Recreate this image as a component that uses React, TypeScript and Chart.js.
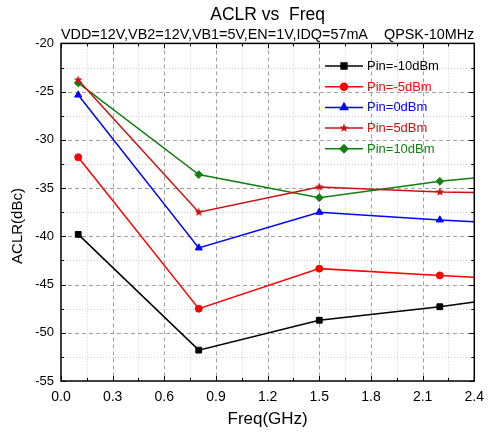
import React, { useEffect, useRef } from 'react';
import { Chart, registerables } from 'chart.js';
import { drawPoint } from 'chart.js/helpers';

Chart.register(...registerables);

// ---- data ----
const freqGHz = [0.1, 0.8, 1.5, 2.2, 2.4];
const pinM10 = [-39.8, -51.8, -48.7, -47.3, -46.8];
const pinM5 = [-31.8, -47.5, -43.35, -44.05, -44.25];
const pin0 = [-25.35, -41.2, -37.5, -38.3, -38.5];
const pin5 = [-23.8, -37.5, -34.9, -35.4, -35.45];
const pin10 = [-24.1, -33.6, -36.0, -34.3, -33.95];
const seriesLabels = ['Pin=-10dBm', 'Pin=-5dBm', 'Pin=0dBm', 'Pin=5dBm', 'Pin=10dBm'];
const seriesColors = ['#000000', '#ff0000', '#0000ff', '#cc1010', '#108010'];
const xTickLabels = ['0.0', '0.3', '0.6', '0.9', '1.2', '1.5', '1.8', '2.1', '2.4'];
const yTickLabels = ['-55', '-50', '-45', '-40', '-35', '-30', '-25', '-20'];
const titleText = 'ACLR vs  Freq';
const subtitleText = 'VDD=12V,VB2=12V,VB1=5V,EN=1V,IDQ=57mA    QPSK-10MHz';
const xTitle = 'Freq(GHz)';
const yTitle = 'ACLR(dBc)';

const FONT = "Arial, 'Liberation Sans', sans-serif";

function makeStar(color: string, size: number) {
  const c = document.createElement('canvas');
  c.width = size;
  c.height = size;
  const g = c.getContext('2d')!;
  const cx = size / 2, cy = size / 2;
  const ro = size / 2 - 0.3, ri = ro * 0.42;
  g.beginPath();
  for (let i = 0; i < 10; i++) {
    const r = i % 2 === 0 ? ro : ri;
    const ang = -Math.PI / 2 + (i * Math.PI) / 5;
    const px = cx + r * Math.cos(ang), py = cy + r * Math.sin(ang);
    if (i === 0) g.moveTo(px, py); else g.lineTo(px, py);
  }
  g.closePath();
  g.fillStyle = color;
  g.fill();
  return c;
}

const xVals = xTickLabels.map(Number);
const yVals = yTickLabels.map(Number);

const framePlugin = {
  id: 'originFrame',
  beforeDatasetsDraw(chart: any) {
    const { ctx, chartArea: a, scales } = chart;
    const x = scales.x, y = scales.y;
    ctx.save();
    ctx.lineWidth = 1;
    ctx.strokeStyle = '#d0d0d0';
    ctx.setLineDash([1, 2]);
    for (let i = 0; i < xVals.length - 1; i++) {
      const px = Math.round(x.getPixelForValue((xVals[i] + xVals[i + 1]) / 2)) + 0.5;
      ctx.beginPath(); ctx.moveTo(px, a.top); ctx.lineTo(px, a.bottom); ctx.stroke();
    }
    for (let i = 0; i < yVals.length - 1; i++) {
      const py = Math.round(y.getPixelForValue((yVals[i] + yVals[i + 1]) / 2)) + 0.5;
      ctx.beginPath(); ctx.moveTo(a.left, py); ctx.lineTo(a.right, py); ctx.stroke();
    }
    ctx.strokeStyle = '#a0a0a0';
    ctx.setLineDash([4, 3]);
    for (let i = 1; i < xVals.length - 1; i++) {
      const px = Math.round(x.getPixelForValue(xVals[i])) + 0.5;
      ctx.beginPath(); ctx.moveTo(px, a.top); ctx.lineTo(px, a.bottom); ctx.stroke();
    }
    for (let i = 1; i < yVals.length - 1; i++) {
      const py = Math.round(y.getPixelForValue(yVals[i])) + 0.5;
      ctx.beginPath(); ctx.moveTo(a.left, py); ctx.lineTo(a.right, py); ctx.stroke();
    }
    ctx.setLineDash([]);
    ctx.beginPath();
    ctx.restore();
  },
  afterDatasetsDraw(chart: any) {
    const { ctx, chartArea: a, scales } = chart;
    const x = scales.x, y = scales.y;
    ctx.save();
    ctx.setLineDash([]);
    ctx.strokeStyle = '#000';
    ctx.lineWidth = 1;
    const tick = (len: number, px: number, py: number, dx: number, dy: number) => {
      ctx.beginPath(); ctx.moveTo(px, py); ctx.lineTo(px + dx * len, py + dy * len); ctx.stroke();
    };
    for (let i = 0; i < xVals.length; i++) {
      const px = Math.round(x.getPixelForValue(xVals[i])) + 0.5;
      tick(5, px, a.bottom, 0, -1);
      tick(5, px, a.top, 0, 1);
      if (i < xVals.length - 1) {
        const pm = Math.round(x.getPixelForValue((xVals[i] + xVals[i + 1]) / 2)) + 0.5;
        tick(3, pm, a.bottom, 0, -1);
        tick(3, pm, a.top, 0, 1);
      }
    }
    for (let i = 0; i < yVals.length; i++) {
      const py = Math.round(y.getPixelForValue(yVals[i])) + 0.5;
      tick(5, a.left, py, 1, 0);
      tick(5, a.right, py, -1, 0);
      if (i < yVals.length - 1) {
        const pm = Math.round(y.getPixelForValue((yVals[i] + yVals[i + 1]) / 2)) + 0.5;
        tick(3, a.left, pm, 1, 0);
        tick(3, a.right, pm, -1, 0);
      }
    }
    ctx.lineWidth = 1.5;
    ctx.strokeRect(a.left, a.top, a.right - a.left, a.bottom - a.top);

    // legend
    const lx0 = 325, lx1 = 363, ly0 = 66, lstep = 20.7;
    chart.data.datasets.forEach((ds: any, i: number) => {
      const ly = ly0 + i * lstep;
      ctx.strokeStyle = ds.borderColor;
      ctx.lineWidth = 1.5;
      ctx.beginPath(); ctx.moveTo(lx0, ly); ctx.lineTo(lx1, ly); ctx.stroke();
      ctx.fillStyle = ds.backgroundColor;
      drawPoint(ctx, {
        pointStyle: ds.pointStyle,
        radius: Array.isArray(ds.pointRadius) ? ds.pointRadius[0] : ds.pointRadius,
        rotation: 0,
        borderWidth: 1,
      }, (lx0 + lx1) / 2, ly);
      ctx.fillStyle = ds.borderColor;
      ctx.font = `13px ${FONT}`;
      ctx.textAlign = 'left';
      ctx.textBaseline = 'middle';
      ctx.fillText(ds.label, lx1 + 4, ly + 0.5);
    });

    // y title
    ctx.fillStyle = '#000';
    ctx.font = `15px ${FONT}`;
    ctx.translate(18, 226);
    ctx.rotate(-Math.PI / 2);
    ctx.textAlign = 'center';
    ctx.textBaseline = 'middle';
    ctx.fillText(yTitle, 0, 0);
    ctx.restore();
  },
};

export default function App() {
  const ref = useRef<HTMLCanvasElement | null>(null);
  useEffect(() => {
    if (!ref.current) return;
    const star = makeStar(seriesColors[3], 10);
    const styles: any[] = ['rect', 'circle', 'triangle', star, 'rectRot'];
    const radii = [4.1, 3.5, 4.1, 5, 3.9];
    const all = [pinM10, pinM5, pin0, pin5, pin10];
    const datasets = all.map((vals, i) => ({
      type: 'scatter',
      showLine: true,
      label: seriesLabels[i],
      data: freqGHz.map((f, j) => ({ x: f, y: vals[j] })),
      borderColor: seriesColors[i],
      backgroundColor: seriesColors[i],
      pointBackgroundColor: seriesColors[i],
      pointBorderColor: seriesColors[i],
      pointBorderWidth: 1,
      borderWidth: 1.5,
      pointStyle: styles[i],
      pointRadius: freqGHz.map((_, j) => (j < 4 ? radii[i] : 0)),
      pointHoverRadius: 0,
      tension: 0,
      fill: false,
      segment: { borderColor: () => seriesColors[i] },
    }));
    const chart = new Chart(ref.current, {
      type: 'scatter',
      data: { datasets },
      plugins: [framePlugin],
      options: {
        responsive: false,
        animation: false,
        devicePixelRatio: 1,
        events: [],
        font: { family: FONT },
        layout: { padding: { left: 0, right: 11, top: 0, bottom: 0 } },
        plugins: {
          legend: { display: false },
          tooltip: { enabled: false },
          title: {
            display: true,
            text: titleText,
            fullSize: false,
            color: '#000',
            font: { family: FONT, size: 17.5, weight: 'normal' },
            padding: { top: 5, bottom: 0 },
          },
          subtitle: {
            display: true,
            text: subtitleText,
            fullSize: false,
            color: '#000',
            font: { family: FONT, size: 14.5, weight: 'normal' },
            padding: { top: 0, bottom: 0 },
          },
        },
        scales: {
          x: {
            type: 'linear',
            min: xVals[0],
            max: xVals[xVals.length - 1],
            grid: { display: false, drawTicks: false },
            border: { display: false },
            ticks: {
              stepSize: 0.3,
              color: '#000',
              padding: 8,
              maxRotation: 0,
              autoSkip: false,
              font: { family: FONT, size: 14 },
              callback: (v: any) => Number(v).toFixed(1),
            },
            title: {
              display: true,
              text: xTitle,
              color: '#000',
              font: { family: FONT, size: 17 },
              padding: { top: 0, bottom: 5 },
            },
            afterFit: (s: any) => { s.height = 54; },
          },
          y: {
            type: 'linear',
            min: yVals[0],
            max: yVals[yVals.length - 1],
            grid: { display: false, drawTicks: false },
            border: { display: false },
            ticks: {
              stepSize: 5,
              color: '#000',
              padding: 7,
              font: { family: FONT, size: 13 },
              callback: (v: any) => String(v),
            },
            afterFit: (s: any) => { s.width = 61; },
          },
        },
      } as any,
    });
    return () => chart.destroy();
  }, []);
  return (
    <div style={{ position: 'fixed', left: 0, top: 0, width: 492, height: 435, background: '#fff' }}>
      <canvas ref={ref} width={492} height={435} style={{ display: 'block', width: 492, height: 435 }} />
    </div>
  );
}
